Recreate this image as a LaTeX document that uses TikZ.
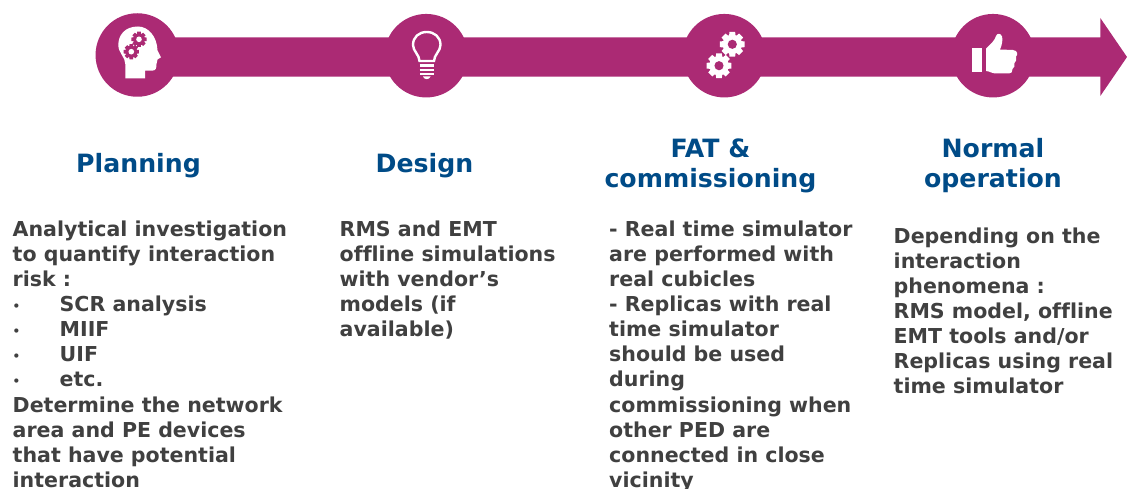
\documentclass[tikz,border=0pt]{standalone}
\usepackage{fontspec}
\setmainfont{DejaVu Sans}[BoldFont={DejaVu Sans Bold},Ligatures=NoCommon]
\usetikzlibrary{calc}
\definecolor{mag}{HTML}{AB2A74}
\definecolor{headblue}{HTML}{004B87}
\definecolor{bodygrey}{HTML}{404040}
\newcommand{\gearshape}[5]{% x y outer fill hole
  \begin{scope}[shift={(#1,#2)}]
  \fill[#4] (-13:#3) \foreach \a in {0,45,...,315}{
      -- (\a-13:#3) -- (\a+13:#3) -- (\a+19:#3*0.76) -- (\a+26:#3*0.76)
    } -- cycle;
  \fill[#5] (0,0) circle[radius=#3*0.36];
  \end{scope}
}
\newcommand{\sbul}{\makebox[47pt][l]{\fontsize{12}{12}\selectfont\raisebox{1pt}{•}}}
\tikzset{
  x=1pt,y=-1pt,
  disc/.style={circle,fill=mag,minimum size=83.5pt,inner sep=0pt},
  heading/.style={font=\fontsize{25.2}{30}\selectfont\bfseries,text=headblue,align=center,inner sep=0pt},
  body/.style={font=\fontsize{20.55}{25.1}\selectfont\bfseries,text=bodygrey,align=left,inner sep=0pt,anchor=north west}
}
\begin{document}
\begin{tikzpicture}
\useasboundingbox (0,0) rectangle (1127,489);
\fill[mag] (136,37.3) -- (1100.3,37.3) -- (1100.3,18) -- (1127,57) -- (1100.3,96) -- (1100.3,76.7) -- (136,76.7) -- cycle;
\node[disc] (d1) at (137.3,55) {};
\node[disc] (d2) at (426.2,55.7) {};
\node[disc] (d3) at (724.3,55.7) {};
\node[disc] (d4) at (993,55.7) {};
% head
\fill[white] (125.3,78.3) -- (145,78.3) -- (145,70.7) -- (152,70.7)
  .. controls (156,70.7) and (156.5,68) .. (156.5,64) -- (157.5,59.5) -- (161,57.3)
  -- (157.5,50.5) .. controls (157,36) and (148,26.5) .. (138,26.5)
  .. controls (125,26.5) and (118.3,35) .. (118.3,45)
  .. controls (118.3,53) and (125.3,57) .. (125.3,64) -- cycle;
\gearshape{139}{39.3}{7.8}{mag}{white}
\gearshape{131.3}{51.7}{7.8}{mag}{white}
% bulb
\draw[white,line width=2.4pt] (419.5,61) .. controls (419.5,55) and (413,51) .. (413,45)
  .. controls (413,37) and (419,32) .. (426.7,32)
  .. controls (434.5,32) and (440.5,37) .. (440.5,45)
  .. controls (440.5,51) and (434,55) .. (434,61) -- cycle;
\draw[white,line width=2.6pt] (419.5,65.5) -- (434,65.5) (419.5,70) -- (434,70) (420,74) -- (433.5,74);
\fill[white] (423,76.5) -- (430.5,76.5) .. controls (429.5,80) and (424,80) .. (423,76.5) -- cycle;
% gears
\gearshape{732.3}{44.3}{12.7}{white}{mag}
\gearshape{719}{65.7}{12.7}{white}{mag}
% thumb
\fill[white] (971.7,48.5) rectangle (982.3,72);
\fill[white] (986,48.5) .. controls (991,44) and (995,40) .. (996,36)
  .. controls (997,33) and (1001,33) .. (1002,36.5)
  .. controls (1003,40) and (1002,45) .. (1000,49.5)
  -- (1013,50) .. controls (1018,50.5) and (1018,55) .. (1016,56.5)
  .. controls (1017,59) and (1016,62) .. (1014.5,63)
  .. controls (1015,66) and (1014,68) .. (1012.5,69)
  .. controls (1013,72) and (1011,73.5) .. (1009,73.5)
  -- (996,73.5) .. controls (992,73.5) and (989,71) .. (986,71) -- cycle;
% headings
\node[heading] (h1) at (138.5,165.5) {Planning};
\node[heading] (h2) at (424.5,165.5) {Design};
\node[heading] (h3) at (710.5,165.5) {FAT \&\\commissioning};
\node[heading] (h4) at (993,165.5) {Normal\\operation};
% bodies
\node[body] (b1) at (12.5,220.5) {Analytical investigation\\to quantify interaction\\risk :\\\sbul SCR analysis\\\sbul MIIF\\\sbul UIF\\\sbul etc.\\Determine the network\\area and PE devices\\that have potential\\interaction};
\node[body] (b2) at (339.5,220.5) {RMS and EMT\\offline simulations\\with vendor’s\\models (if\\available)};
\node[body] (b3) at (609,220.5) {- Real time simulator\\are performed with\\real cubicles\\- Replicas with real\\time simulator\\should be used\\during\\commissioning when\\other PED are\\connected in close\\vicinity};
\node[body] (b4) at (893.5,227.5) {Depending on the\\interaction\\phenomena :\\RMS model, offline\\EMT tools and/or\\Replicas using real\\time simulator};
\end{tikzpicture}
\end{document}
